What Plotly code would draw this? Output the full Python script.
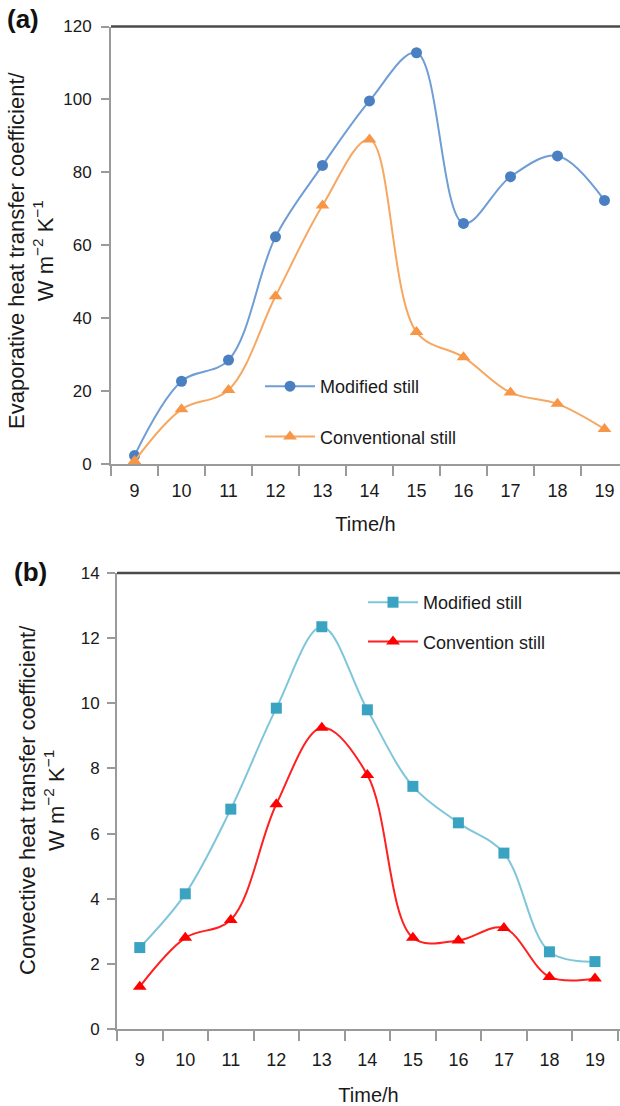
import plotly.graph_objects as go

hours = ["9", "10", "11", "12", "13", "14", "15", "16", "17", "18", "19"]

evap_modified = [2.3, 22.7, 28.5, 62.3, 81.9, 99.6, 112.8, 66.0, 78.8, 84.5, 72.3]
evap_conventional = [0.8, 15.0, 20.3, 46.0, 70.9, 89.0, 36.2, 29.3, 19.6, 16.5, 9.6]

conv_modified = [2.5, 4.15, 6.75, 9.85, 12.35, 9.8, 7.45, 6.33, 5.4, 2.37, 2.07]
conv_convention = [1.3, 2.8, 3.35, 6.9, 9.25, 7.8, 2.8, 2.72, 3.1, 1.6, 1.55]

W, H = 620, 1106
FONT = "Liberation Sans, Arial, sans-serif"

fig = go.Figure()

# Panel (a)
fig.add_trace(go.Scatter(
    x=hours, y=evap_modified, name="Modified still", mode="lines+markers",
    line=dict(color="#6f9dd6", width=2, shape="spline", smoothing=1.0),
    marker=dict(color="#4a7fc1", size=11, symbol="circle"),
    xaxis="x", yaxis="y", legend="legend", legendgroup="a1"))
fig.add_trace(go.Scatter(
    x=hours, y=evap_conventional, name="Conventional still", mode="lines+markers",
    line=dict(color="#f6a862", width=2, shape="spline", smoothing=1.0),
    marker=dict(color="#f79646", size=12, symbol="triangle-up"),
    xaxis="x", yaxis="y", legend="legend", legendgroup="a2"))

# Panel (b)
fig.add_trace(go.Scatter(
    x=hours, y=conv_modified, name="Modified still", mode="lines+markers",
    line=dict(color="#80c6da", width=2, shape="spline", smoothing=1.0),
    marker=dict(color="#3aa3c2", size=11, symbol="square"),
    xaxis="x2", yaxis="y2", legend="legend2", legendgroup="b1"))
fig.add_trace(go.Scatter(
    x=hours, y=conv_convention, name="Convention still", mode="lines+markers",
    line=dict(color="#ff2020", width=2, shape="spline", smoothing=1.0),
    marker=dict(color="#ff0000", size=12, symbol="triangle-up"),
    xaxis="x2", yaxis="y2", legend="legend2", legendgroup="b2"))

axis_common = dict(showgrid=False, zeroline=False, showline=True,
                   linecolor="#9a9a9a", linewidth=2, automargin=False,
                   tickfont=dict(family=FONT, size=18, color="#1a1a1a"),
                   ticks="outside", tickcolor="#9a9a9a", tickwidth=2)

ya_top, ya_bot = 26.5, 464
yb_top, yb_bot = 573, 1029

fig.update_layout(
    width=W, height=H,
    margin=dict(l=0, r=0, t=0, b=0, pad=0, autoexpand=False),
    paper_bgcolor="white", plot_bgcolor="white",
    font=dict(family=FONT, color="#1a1a1a"),
    xaxis=dict(axis_common, type="category", domain=[111 / W, 1.0],
               range=[-0.5, 10.33], tickson="boundaries", ticklen=10,
               ticklabelstandoff=9, anchor="y",
               title=dict(text="Time/h", font=dict(size=20), standoff=17)),
    yaxis=dict(axis_common, domain=[1 - ya_bot / H, 1 - ya_top / H],
               range=[0, 120], tickvals=[0, 20, 40, 60, 80, 100, 120], ticklen=8,
               ticklabelstandoff=6, tickfont=dict(family=FONT, size=17, color="#1a1a1a"),
               anchor="x"),
    xaxis2=dict(axis_common, type="category", domain=[117 / W, 1.0],
                range=[-0.5, 10.55], tickson="boundaries", ticklen=10,
                ticklabelstandoff=13, anchor="y2",
                title=dict(text="Time/h", font=dict(size=20), standoff=21)),
    yaxis2=dict(axis_common, domain=[1 - yb_bot / H, 1 - yb_top / H],
                range=[0, 14], tickvals=[0, 2, 4, 6, 8, 10, 12, 14], ticklen=8,
                ticklabelstandoff=4, tickfont=dict(family=FONT, size=17, color="#1a1a1a"),
                anchor="x2"),
    legend=dict(x=260 / W, y=1 - 368 / H, xanchor="left", yanchor="top",
                bgcolor="rgba(0,0,0,0)", font=dict(family=FONT, size=18),
                tracegroupgap=24, traceorder="grouped", itemwidth=50),
    legend2=dict(x=363 / W, y=1 - 584 / H, xanchor="left", yanchor="top",
                 bgcolor="rgba(0,0,0,0)", font=dict(family=FONT, size=18),
                 tracegroupgap=13, traceorder="grouped", itemwidth=50),
    showlegend=True,
)

# y-axis titles
fig.add_annotation(text="Evaporative heat transfer coefficient/<br>W m<sup>−2</sup> K<sup>−1</sup>",
                   xref="paper", yref="paper", x=31 / W, y=1 - 250 / H,
                   xanchor="center", yanchor="middle", textangle=-90, showarrow=False,
                   font=dict(family=FONT, size=22, color="#1a1a1a"))
fig.add_annotation(text="Convective heat transfer coefficient/<br>W m<sup>−2</sup> K<sup>−1</sup>",
                   xref="paper", yref="paper", x=42 / W, y=1 - 800 / H,
                   xanchor="center", yanchor="middle", textangle=-90, showarrow=False,
                   font=dict(family=FONT, size=22, color="#1a1a1a"))

# dark top borders of both plot areas
fig.add_shape(type="line", xref="paper", yref="paper",
              x0=111 / W, x1=1.0, y0=1 - ya_top / H, y1=1 - ya_top / H,
              line=dict(color="#4a4a4a", width=2.5))
fig.add_shape(type="line", xref="paper", yref="paper",
              x0=117 / W, x1=1.0, y0=1 - yb_top / H, y1=1 - yb_top / H,
              line=dict(color="#4a4a4a", width=2.5))

# panel labels
fig.add_annotation(text="<b>(a)</b>", xref="paper", yref="paper",
                   x=5 / W, y=1 - 19 / H, xanchor="left", yanchor="middle",
                   showarrow=False, font=dict(family=FONT, size=26, color="#111"))
fig.add_annotation(text="<b>(b)</b>", xref="paper", yref="paper",
                   x=12 / W, y=1 - 572 / H, xanchor="left", yanchor="middle",
                   showarrow=False, font=dict(family=FONT, size=26, color="#111"))

fig.write_html("out.html")
